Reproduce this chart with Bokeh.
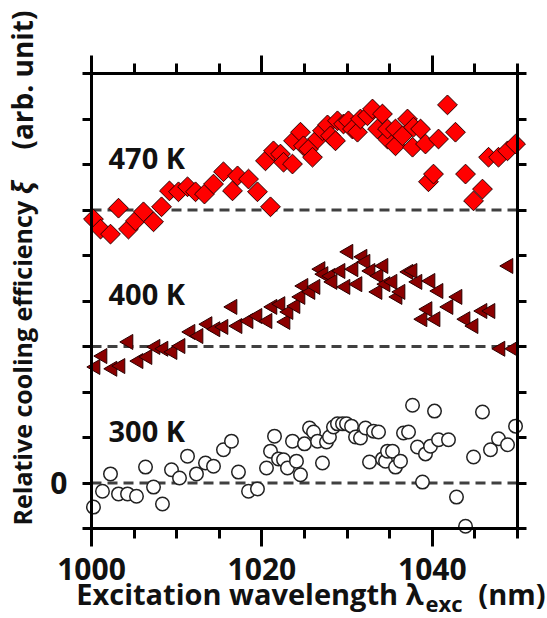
import numpy as np
from bokeh.plotting import figure
from bokeh.models import Range1d, LinearAxis, FixedTicker, Label, ColumnDataSource
from bokeh.embed import file_html
from bokeh.resources import INLINE
from bokeh.core.properties import value

# ---------------- data ----------------
series_labels = ["300 K", "400 K", "470 K"]
offsets = [0, 3, 6]

x300 = [1000.23, 1001.29, 1002.23, 1003.17, 1004.23, 1005.28, 1006.34, 1007.28, 1008.33, 1009.39,
        1010.33, 1011.27, 1012.32, 1013.38, 1014.32, 1015.49, 1016.43, 1017.25, 1018.43, 1019.48,
        1020.54, 1021.01, 1021.48, 1021.95, 1022.54, 1023.00, 1023.59, 1024.06, 1024.53, 1025.00,
        1025.59, 1026.06, 1026.53, 1027.11, 1027.58, 1027.93, 1028.40, 1028.87, 1029.46, 1029.93,
        1030.52, 1030.99, 1031.57, 1032.16, 1032.63, 1033.10, 1033.69, 1034.15, 1034.51, 1034.74,
        1035.33, 1035.68, 1036.27, 1036.62, 1037.21, 1037.68, 1038.26, 1038.85, 1039.20, 1039.79,
        1040.26, 1040.73, 1041.90, 1042.84, 1043.90, 1044.84, 1045.89, 1046.83, 1047.77, 1048.83,
        1049.77]
y300 = [-0.53, -0.18, 0.20, -0.24, -0.24, -0.29, 0.35, -0.09, -0.46, 0.29,
        0.11, 0.59, 0.20, 0.44, 0.37, 0.73, 0.92, 0.24, -0.18, -0.13,
        0.33, 0.70, 1.03, 0.53, 0.51, 0.33, 0.92, 0.48, 0.18, 0.86,
        1.21, 1.12, 0.92, 0.44, 0.90, 1.01, 1.23, 1.30, 1.30, 1.30,
        1.25, 1.01, 0.99, 1.21, 0.46, 1.14, 1.12, 0.53, 0.48, 0.70,
        0.70, 0.35, 0.48, 1.10, 1.12, 1.71, 0.79, 0.02, 0.64, 0.81,
        1.58, 0.95, 0.95, -0.31, -0.95, 0.57, 1.56, 0.73, 0.97, 0.84,
        1.25]

x400 = [1000.47, 1001.29, 1002.46, 1003.40, 1004.34, 1005.52, 1006.57, 1007.51, 1008.45, 1009.51,
        1010.45, 1011.62, 1012.56, 1013.62, 1014.55, 1015.49, 1016.55, 1017.14, 1018.43, 1019.48,
        1020.66, 1021.24, 1022.18, 1022.77, 1023.12, 1023.94, 1024.53, 1024.88, 1025.70, 1026.29,
        1026.88, 1027.23, 1028.05, 1028.29, 1029.23, 1029.81, 1030.16, 1030.75, 1031.22, 1031.81,
        1032.16, 1032.75, 1033.57, 1033.69, 1034.27, 1034.51, 1035.33, 1035.92, 1036.27, 1037.21,
        1037.68, 1038.26, 1038.85, 1039.44, 1039.79, 1040.38, 1040.73, 1041.90, 1042.96, 1043.90,
        1044.84, 1045.89, 1046.83, 1048.00, 1048.94, 1049.53]
y400 = [-0.45, -0.21, -0.49, -0.43, 0.10, -0.32, -0.23, -0.01, -0.05, -0.12,
        0.01, 0.32, 0.23, 0.49, 0.38, 0.43, 0.87, 0.45, 0.56, 0.67,
        0.56, 0.87, 0.93, 0.54, 0.76, 0.89, 1.09, 1.33, 1.20, 1.31,
        1.70, 1.59, 1.55, 1.42, 1.66, 1.31, 2.08, 1.70, 1.37, 1.97,
        1.86, 1.66, 1.20, 1.55, 1.77, 1.37, 1.42, 1.09, 1.20, 1.64,
        1.66, 1.42, 0.60, 0.82, 1.44, 0.60, 1.22, 0.87, 1.09, 0.60,
        0.45, 0.78, 0.78, -0.05, 1.77, -0.05]

x470 = [1000.23, 1001.06, 1002.23, 1003.17, 1004.34, 1005.16, 1006.10, 1007.28, 1008.22, 1009.15,
        1010.21, 1011.27, 1012.21, 1013.26, 1014.32, 1015.49, 1016.55, 1017.14, 1018.43, 1019.48,
        1020.42, 1021.01, 1021.36, 1022.18, 1022.54, 1023.59, 1023.71, 1024.53, 1024.88, 1025.47,
        1025.94, 1026.53, 1027.11, 1027.70, 1028.05, 1028.64, 1028.87, 1029.58, 1030.16, 1030.63,
        1031.22, 1031.57, 1032.39, 1032.98, 1033.57, 1034.15, 1034.74, 1034.74, 1035.68, 1035.68,
        1036.50, 1037.09, 1037.68, 1037.79, 1038.62, 1039.20, 1039.55, 1040.14, 1040.73, 1041.78,
        1042.72, 1043.90, 1044.84, 1045.89, 1046.60, 1047.77, 1048.83, 1049.77]
y470 = [-0.20, -0.42, -0.53, 0.04, -0.42, -0.24, -0.04, -0.26, 0.07, 0.42,
        0.40, 0.51, 0.40, 0.35, 0.57, 0.84, 0.42, 0.75, 0.68, 0.40,
        1.08, 0.07, 1.30, 1.23, 1.05, 1.01, 1.52, 1.71, 1.41, 1.34,
        1.16, 1.56, 1.74, 1.87, 1.63, 1.52, 1.96, 1.89, 1.96, 1.78,
        1.71, 2.00, 2.07, 2.22, 1.78, 2.11, 1.56, 1.78, 1.41, 1.78,
        1.63, 2.00, 1.38, 1.82, 1.78, 1.45, 0.62, 0.79, 1.56, 2.31,
        1.71, 0.79, 0.20, 0.46, 1.16, 1.16, 1.30, 1.45]

x_major_ticks = [1000, 1020, 1040]
x_minor_ticks = list(range(1000, 1051, 5))
y_ticks = list(range(-1, 10))
XMIN, XMAX = 1000, 1050
YMIN, YMAX = -1, 9

FONT = "Open Sans"
INK = "#111111"

# ---------------- geometry (pixels) ----------------
W, H = 547, 618
FL, FR, FT, FB = 91, 517, 73, 528          # where the axes box sits
kx = (FR - FL) / (XMAX - XMIN)
ky = (FB - FT) / (YMAX - YMIN)
x_start = XMIN - FL / kx
x_end = XMAX + (W - FR) / kx
y_start = YMIN - (H - FB) / ky
y_end = YMAX + FT / ky

p = figure(width=W, height=H, output_backend="svg", toolbar_location=None,
           x_range=Range1d(x_start, x_end), y_range=Range1d(y_start, y_end),
           min_border=0, min_border_left=0, min_border_right=0,
           min_border_top=0, min_border_bottom=0, x_axis_type=None, y_axis_type=None)
p.title.visible = False
p.grid.visible = False
p.outline_line_color = None
p.background_fill_color = "white"
p.border_fill_color = "white"


def make_axis(is_x, show_labels, loc):
    ax = LinearAxis(fixed_location=loc)
    if is_x:
        ax.ticker = FixedTicker(ticks=x_major_ticks, minor_ticks=x_minor_ticks)
        ax.bounds = (XMIN, XMAX)
        ax.major_tick_out = 18
        ax.minor_tick_out = 10
        if not show_labels:
            ax.major_label_overrides = {t: "" for t in x_major_ticks}
        ax.major_label_standoff = 11
    else:
        ax.ticker = FixedTicker(ticks=y_ticks, minor_ticks=[])
        ax.bounds = (YMIN, YMAX)
        ax.major_tick_out = 9
        ax.minor_tick_out = 0
        ax.major_label_overrides = {t: ("0" if (t == 0 and show_labels) else "") for t in y_ticks}
        ax.major_label_standoff = 15
    ax.major_tick_in = 0
    ax.minor_tick_in = 0
    ax.axis_line_width = 3
    ax.axis_line_color = "black"
    ax.major_tick_line_width = 3
    ax.minor_tick_line_width = 3
    ax.major_tick_line_color = "black"
    ax.minor_tick_line_color = "black"
    ax.major_label_text_font = FONT
    ax.major_label_text_font_style = "bold"
    ax.major_label_text_font_size = "30px"
    ax.major_label_text_color = INK
    return ax


p.add_layout(make_axis(True, True, YMIN), "below")
p.add_layout(make_axis(True, False, YMAX), "above")
p.add_layout(make_axis(False, True, XMIN), "left")
p.add_layout(make_axis(False, False, XMAX), "right")

# dashed baselines
p.segment(x0=[XMIN] * len(offsets), x1=[XMAX] * len(offsets), y0=offsets, y1=offsets,
          line_color="#404040", line_width=3, line_dash="10 6")

# series
p.scatter(x=x300, y=[v + offsets[0] for v in y300], marker="circle", size=13.5,
          fill_color="white", line_color="#222222", line_width=1.5)
p.scatter(x=x400, y=[v + offsets[1] for v in y400], marker="triangle", angle=np.pi / 2,
          size=15, fill_color="#8B0000", line_color="#2a0000", line_width=1)
p.scatter(x=x470, y=[v + offsets[2] for v in y470], marker="square", angle=np.pi / 4,
          size=14, fill_color="#FF0000", line_color="#2a0000", line_width=1)

# series labels
lab_src = ColumnDataSource(dict(x=[XMIN + 2.0] * len(series_labels),
                                y=[o + 1.16 for o in offsets], text=series_labels))
p.text(x="x", y="y", text="text", source=lab_src, text_font=value(FONT),
       text_font_style="bold", text_font_size="29px", text_color=INK,
       text_baseline="alphabetic", text_align="left")


# axis titles (screen units: from the canvas bottom-left)
def sy(py):
    return H - py


common = dict(x_units="screen", y_units="screen", text_font=FONT, text_color=INK,
              text_baseline="alphabetic")
p.add_layout(Label(x=423, y=sy(593), text="Excitation wavelength λ", text_align="right",
                   text_font_size="29px", text_font_style="bold", **common))
p.add_layout(Label(x=425, y=sy(602), text="exc", text_align="left",
                   text_font_size="22px", text_font_style="bold", **common))
p.add_layout(Label(x=545, y=sy(593), text="(nm)", text_align="right",
                   text_font_size="29px", text_font_style="bold", **common))

p.add_layout(Label(x=21, y=sy(525), angle=np.pi / 2, text="Relative cooling efficiency",
                   text_align="left", text_font_size="25px", text_font_style="bold", **common))
p.add_layout(Label(x=21, y=sy(194), angle=np.pi / 2, text="ξ",
                   text_align="left", text_font_size="28px", text_font_style="bold italic", **common))
p.add_layout(Label(x=21, y=sy(10), angle=np.pi / 2, text="(arb. unit)",
                   text_align="right", text_font_size="28px", text_font_style="bold", **common))

open("out.html", "w").write(file_html(p, INLINE))
